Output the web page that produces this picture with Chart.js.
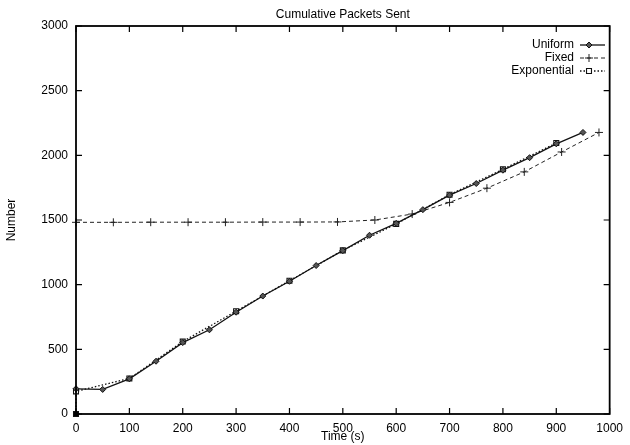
<!DOCTYPE html>
<html>
<head>
<meta charset="utf-8">
<script src="https://cdn.jsdelivr.net/npm/chart.js@4/dist/chart.umd.min.js"></script>
<style>
  html, body { margin: 0; padding: 0; background: #fff; }
  #wrap { width: 630px; height: 445px; }
</style>
</head>
<body>
<div id="wrap"><canvas id="packetsChart"></canvas></div>
<script>
// values
const uniformTime = [0, 50, 100, 150, 200, 250, 300, 350, 400, 450, 500, 550, 600, 650, 700, 750, 800, 850, 900, 950];
const uniformCount = [195, 190, 272, 408, 552, 651, 787, 912, 1026, 1148, 1263, 1382, 1474, 1580, 1692, 1782, 1885, 1982, 2089, 2177];

const fixedTime = [0, 70, 140, 210, 280, 350, 420, 490, 560, 630, 700, 770, 840, 910, 980];
const fixedCount = [1482, 1482, 1483, 1483, 1483, 1484, 1484, 1485, 1500, 1546, 1636, 1746, 1872, 2026, 2177];

const expTime = [0, 0, 100, 200, 300, 400, 500, 600, 700, 800, 900];
const expCount = [0, 175, 275, 560, 795, 1030, 1265, 1470, 1695, 1892, 2095];

const xTicks = [0, 1000, 100];
const yTicks = [0, 3000, 500];

const chartTitle = 'Cumulative Packets Sent';

function toPoints(xs, ys) {
    return xs.map((x, i) => ({ x: x, y: ys[i] }));
}

const FONT = '"Liberation Sans", Arial, Helvetica, sans-serif';
Chart.defaults.font.family = FONT;
Chart.defaults.font.size = 12;
Chart.defaults.color = '#000';

// gnuplot style frame, inward ticks, title and legend
const gnuplotFrame = {
    id: 'gnuplotFrame',
    afterDraw(chart) {
        const ctx = chart.ctx;
        const a = chart.chartArea;
        const xs = chart.scales.x;
        const ys = chart.scales.y;
        ctx.save();
        ctx.strokeStyle = '#000';
        ctx.lineWidth = 1.8;
        ctx.strokeRect(a.left, a.top, a.right - a.left, a.bottom - a.top);

        ctx.lineWidth = 1.2;
        ctx.beginPath();
        xs.ticks.forEach(t => {
            const px = xs.getPixelForValue(t.value);
            ctx.moveTo(px, a.bottom); ctx.lineTo(px, a.bottom - 6);
            ctx.moveTo(px, a.top); ctx.lineTo(px, a.top + 6);
        });
        ys.ticks.forEach(t => {
            const py = ys.getPixelForValue(t.value);
            ctx.moveTo(a.left, py); ctx.lineTo(a.left + 6, py);
            ctx.moveTo(a.right, py); ctx.lineTo(a.right - 6, py);
        });
        ctx.stroke();

        ctx.fillStyle = '#000';
        ctx.font = '12px ' + FONT;
        ctx.textAlign = 'center';
        ctx.textBaseline = 'middle';
        ctx.fillText(chartTitle, (a.left + a.right) / 2, 15);

        // legend: label right-aligned, sample line to its right
        chart.data.datasets.forEach((ds, i) => {
            const ly = 45 + i * 13;
            ctx.fillStyle = '#000';
            ctx.textAlign = 'right';
            ctx.fillText(ds.label, 574, ly);
            ctx.strokeStyle = ds.borderColor;
            ctx.lineWidth = ds.borderWidth;
            ctx.setLineDash(ds.borderDash || []);
            ctx.beginPath();
            ctx.moveTo(580, ly);
            ctx.lineTo(605, ly);
            ctx.stroke();
            ctx.setLineDash([]);
            if (Chart.helpers && Chart.helpers.drawPoint) {
                const bg = ds.pointBackgroundColor;
                ctx.fillStyle = typeof bg === 'function' ? '#fff' : bg;
                ctx.strokeStyle = ds.pointBorderColor;
                ctx.lineWidth = ds.pointBorderWidth;
                Chart.helpers.drawPoint(ctx, {
                    pointStyle: ds.pointStyle,
                    radius: ds.pointRadius,
                    rotation: 0,
                    borderWidth: ds.pointBorderWidth
                }, 589, ly);
            }
        });
        ctx.restore();
    }
};

new Chart(document.getElementById('packetsChart'), {
    type: 'line',
    data: {
        datasets: [
            {
                label: 'Uniform',
                data: toPoints(uniformTime, uniformCount),
                borderColor: '#111',
                borderWidth: 1.3,
                pointStyle: 'rectRot',
                pointRadius: 3,
                pointBackgroundColor: '#555',
                pointBorderColor: '#111',
                pointBorderWidth: 1,
                tension: 0,
                clip: false
            },
            {
                label: 'Fixed',
                data: toPoints(fixedTime, fixedCount),
                borderColor: '#222',
                borderWidth: 1,
                borderDash: [4, 3],
                pointStyle: 'cross',
                pointRadius: 4,
                pointBackgroundColor: '#222',
                pointBorderColor: '#222',
                pointBorderWidth: 1,
                tension: 0,
                clip: false
            },
            {
                label: 'Exponential',
                data: toPoints(expTime, expCount),
                borderColor: '#111',
                borderWidth: 1.3,
                borderDash: [1.5, 2],
                pointStyle: 'rect',
                pointRadius: 3.5,
                pointBackgroundColor: ctx => (ctx.raw && ctx.raw.y === 0) ? '#000' : 'rgba(255,255,255,0.6)',
                pointBorderColor: '#111',
                pointBorderWidth: 1.1,
                tension: 0,
                clip: false
            }
        ]
    },
    options: {
        responsive: true,
        maintainAspectRatio: false,
        animation: false,
        layout: { padding: { top: 26, right: 15, left: 0, bottom: 0 } },
        plugins: {
            legend: { display: false },
            title: { display: false },
            tooltip: { enabled: false }
        },
        scales: {
            x: {
                type: 'linear',
                min: xTicks[0],
                max: xTicks[1],
                ticks: { stepSize: xTicks[2], padding: 7, maxRotation: 0, callback: v => String(v) },
                grid: { display: false, tickLength: 0 },
                border: { display: false },
                title: { display: true, text: 'Time (s)', padding: { top: 0, bottom: 1 } },
                afterFit(scale) { scale.height = 31; }
            },
            y: {
                type: 'linear',
                min: yTicks[0],
                max: yTicks[1],
                ticks: { stepSize: yTicks[2], padding: 8, callback: v => String(v) },
                grid: { display: false, tickLength: 0 },
                border: { display: false },
                title: { display: true, text: 'Number', padding: { top: 4, bottom: 0 } },
                afterFit(scale) { scale.width = 76; }
            }
        }
    },
    plugins: [gnuplotFrame]
});
</script>
</body>
</html>
